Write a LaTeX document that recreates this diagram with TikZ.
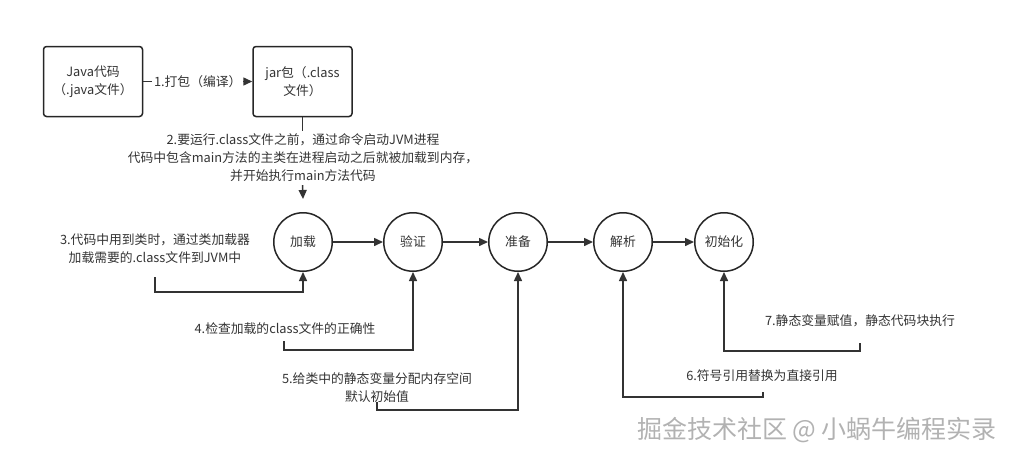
\documentclass[tikz,border=0pt]{standalone}
\usepackage{fontspec}
\setmainfont{Noto Sans CJK SC}
\usetikzlibrary{arrows.meta}
\begin{document}
\begin{tikzpicture}[x=1pt,y=-1pt,
  txt/.style={font=\fontsize{12.8}{18}\selectfont, text=black!80, align=center, inner sep=1pt},
  box/.style={draw=black!85, line width=1.5pt, rounded corners=3pt, minimum width=99pt, minimum height=70pt, txt},
  stage/.style={draw=black!85, line width=1.5pt, circle, minimum size=58.5pt, inner sep=0pt, txt},
  plain/.style={draw=black!80, line width=1.5pt},
  conn/.style={plain, -{Triangle[length=9pt,width=8pt]}},
]
\useasboundingbox (0,0) rectangle (1011,458);
% boxes
\node[box] (java) at (93,81.5) {Java代码\\（.java文件）};
\node[box] (jar) at (302.5,81.5) {jar包（.class\\文件）};
% stages
\node[stage] (load) at (303,242) {加载};
\node[stage] (verify) at (413,242) {验证};
\node[stage] (prep) at (518,242) {准备};
\node[stage] (parse) at (623,242) {解析};
\node[stage] (init) at (724,242) {初始化};
% labels
\node[txt, inner sep=3pt] (l2) at (303,158) {2.要运行.class文件之前，通过命令启动JVM进程\\代码中包含main方法的主类在进程启动之后就被加载到内存，\\并开始执行main方法代码};
\node[txt] (l3) at (155,249) {3.代码中用到类时，通过类加载器\\加载需要的.class文件到JVM中};
\node[txt] (l4) at (285,329) {4.检查加载的class文件的正确性};
\node[txt] (l5) at (377,388) {5.给类中的静态变量分配内存空间\\默认初始值};
\node[txt] (l6) at (762,376) {6.符号引用替换为直接引用};
\node[txt] (l7) at (860,321) {7.静态变量赋值，静态代码块执行};
% coordinates
\coordinate (e2) at (303,199);
\coordinate (s3) at (155,277);
\coordinate (s4) at (284,341);
\coordinate (s5) at (377,402);
\coordinate (s6) at (763,392);
\coordinate (s7) at (860,343);
% connectors
\draw[conn] (java) -- node[txt, fill=white, inner sep=2pt] {1.打包（编译）} (jar);
\draw[plain] (jar.south) -- (jar.south |- l2.north);
\draw[conn] (jar.south |- l2.south) -- (e2);
\draw[conn] (load) -- (verify);
\draw[conn] (verify) -- (prep);
\draw[conn] (prep) -- (parse);
\draw[conn] (parse) -- (init);
\draw[conn] (s3) -- (155,292) -| (load.south);
\draw[conn] (s4) -- (284,350) -| (verify.south);
\draw[conn] (s5) -- (377,410) -| (prep.south);
\draw[conn] (s6) -- (763,397) -| (parse.south);
\draw[conn] (s7) -- (860,351) -| (init.south);
% watermark
\node[font=\fontsize{25}{25}\selectfont, text=gray!60, inner sep=0pt] (wm) at (817,430) {掘金技术社区 @ 小蜗牛编程实录};
\end{tikzpicture}
\end{document}
